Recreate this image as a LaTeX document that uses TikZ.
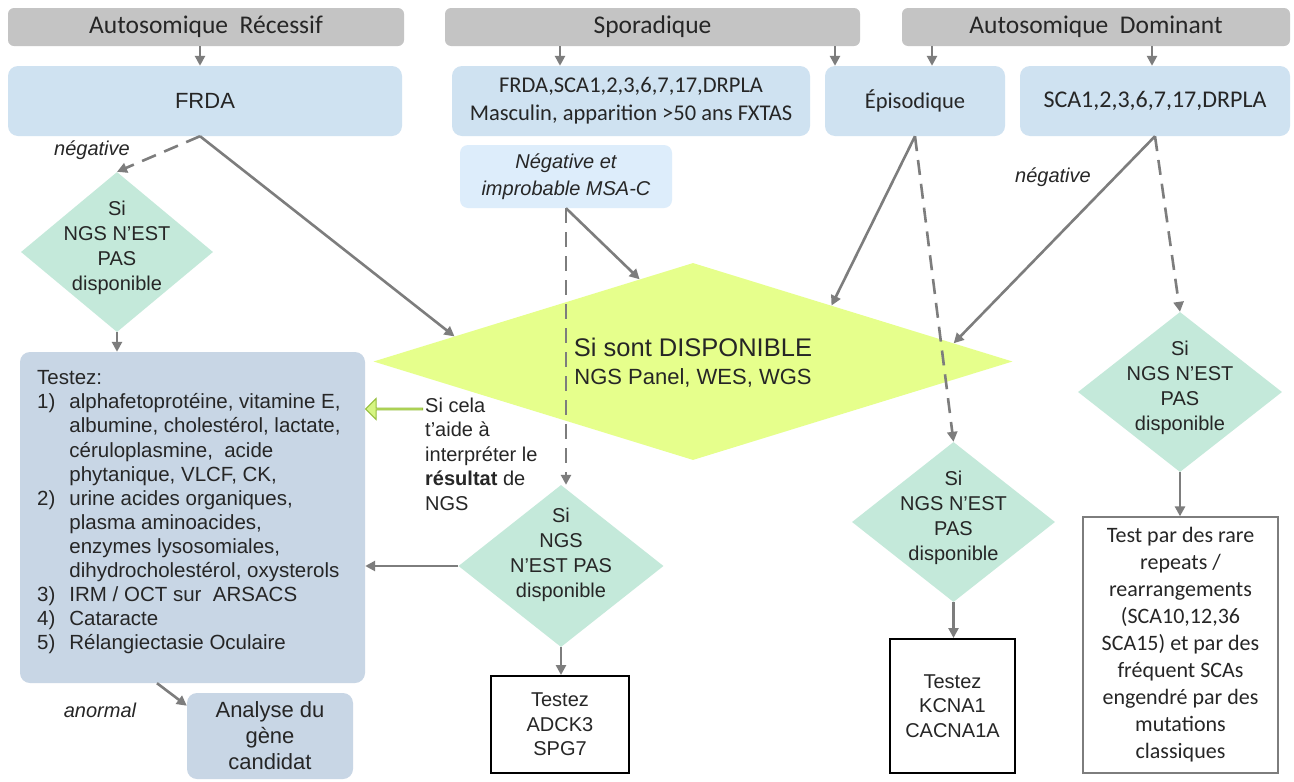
\documentclass[tikz,border=0pt]{standalone}
\usepackage{fontspec}
\setmainfont{Liberation Sans}
\newfontfamily\carl{Carlito}
\usetikzlibrary{arrows.meta,shapes.geometric,shapes.arrows,calc}
\newcommand{\fsz}[2]{\fontsize{#1}{#2}\selectfont}
\definecolor{barg}{RGB}{196,196,196}
\definecolor{boxb}{RGB}{207,226,241}
\definecolor{testb}{RGB}{200,214,229}
\definecolor{msab}{RGB}{221,237,251}
\definecolor{greend}{RGB}{196,233,218}
\definecolor{yell}{RGB}{230,255,140}
\definecolor{arrg}{RGB}{125,125,125}
\definecolor{txt}{RGB}{38,38,38}
\definecolor{garrfill}{RGB}{214,245,130}
\definecolor{garrdraw}{RGB}{150,190,60}
\begin{document}
\begin{tikzpicture}[x=1pt,y=-1pt,
  bar/.style={fill=barg, rounded corners=6pt, minimum height=38pt, inner sep=0pt, text=txt, font={\carl\fsz{25.5}{30}}},
  bbox/.style={fill=boxb, rounded corners=10pt, minimum height=70pt, inner sep=0pt, text=txt, align=center},
  gdia/.style={diamond, fill=greend, inner sep=0pt},
  dtext/.style={align=center, text=txt, font={\fsz{20}{25}}, inner sep=0pt},
  wbox/.style={draw=black, line width=2pt, fill=white, inner sep=0pt, align=center, text=txt, font={\fsz{20}{24.5}}},
  lbl/.style={text=txt, font={\itshape\fsz{20}{24}}, inner sep=0pt},
  arr/.style={draw=arrg, line width=2.6pt, -{Triangle[length=10pt,width=10pt]}},
  darr/.style={arr, dash pattern=on 15pt off 9pt}
]
\useasboundingbox[fill=white] (0,0) rectangle (1294,782);

% top bars
\node[bar, minimum width=396pt] (ar) at (206,27) {Autosomique\ \ Récessif};
\node[bar, minimum width=415pt] (spo) at (652.5,27) {Sporadique};
\node[bar, minimum width=388pt] (ad) at (1096,27) {Autosomique\ \ Dominant};

% second row
\node[bbox, minimum width=394pt, font={\fsz{22}{26}}] (frda) at (205,101) {FRDA};
\node[bbox, minimum width=358pt, font={\carl\fsz{22.5}{28}}] (fsca) at (631,101) {FRDA,SCA1,2,3,6,7,17,DRPLA\\Masculin, apparition \textgreater50 ans FXTAS};
\node[bbox, minimum width=180pt, font={\carl\fsz{22.5}{27}}] (epi) at (915,101) {Épisodique};
\node[bbox, minimum width=270pt, font={\carl\fsz{24}{28}}] (sca) at (1155,101) {SCA1,2,3,6,7,17,DRPLA};

\node[fill=msab, rounded corners=8pt, minimum width=212pt, minimum height=63pt, inner sep=0pt, align=center, text=txt, font={\itshape\fsz{20}{27}}] (msa) at (566,176.5) {Négative et\\improbable MSA-C};

% yellow diamond
\node[diamond, fill=yell, inner sep=0pt, minimum width=639pt, minimum height=197pt] (yd) at (693,361.5) {};
\node[inner sep=0pt, text=txt, font={\fsz{25.5}{30}}] (ydt1) at (693,347) {Si sont DISPONIBLE};
\node[inner sep=0pt, text=txt, font={\fsz{22}{26}}] (ydt2) at (693,378) {NGS Panel, WES, WGS};

% green diamonds
\node[gdia, minimum width=192pt, minimum height=160pt] (d1) at (117,252) {};
\node[dtext] (d1t) at (117,247.5) {Si\\NGS N'EST\\PAS\\disponible};
\node[gdia, minimum width=205pt, minimum height=162pt] (d2) at (561,566) {};
\node[dtext] (d2t) at (561,554.5) {Si\\NGS\\N'EST PAS\\disponible};
\node[gdia, minimum width=203pt, minimum height=160pt] (d3) at (953.5,522) {};
\node[dtext] (d3t) at (953.5,517.5) {Si\\NGS N'EST\\PAS\\disponible};
\node[gdia, minimum width=204pt, minimum height=160pt] (d4) at (1180,392) {};
\node[dtext] (d4t) at (1180,387.5) {Si\\NGS N'EST\\PAS\\disponible};

% testez box
\node[fill=testb, rounded corners=10pt, minimum width=345pt, minimum height=331pt, inner sep=0pt] (testez) at (192.5,517.5) {};
\node[anchor=west, inner sep=0pt, text=txt, font={\fsz{20.5}{24.1}}] (testezt) at (37,512.5) {%
\begin{tabular}{@{}l@{\hspace{14pt}}l@{}}
\multicolumn{2}{@{}l@{}}{Testez:}\\
1) & alphafetoprotéine,\ vitamine\ E,\\
   & albumine,\ cholestérol,\ lactate,\\
   & céruloplasmine,\ \ acide\\
   & phytanique, VLCF, CK,\\
2) & urine\ acides\ organiques,\\
   & plasma\ aminoacides,\\
   & enzymes\ lysosomiales,\\
   & dihydrocholestérol,\ oxysterols\\
3) & IRM / OCT sur\ \ ARSACS\\
4) & Cataracte\\
5) & Rélangiectasie\ Oculaire
\end{tabular}};

\node[fill=testb, rounded corners=10pt, minimum width=166pt, minimum height=86pt, inner sep=0pt, align=center, text=txt, font={\fsz{22}{26}}] (analyse) at (270,736) {Analyse du\\gène\\candidat};

% bottom boxes
\node[wbox, minimum width=138pt, minimum height=97pt] (adck) at (560,724.5) {Testez\\ADCK3\\SPG7};
\node[wbox, minimum width=125pt, minimum height=134pt] (kcna) at (952.5,706) {Testez\\KCNA1\\CACNA1A};
\node[draw=arrg, line width=1.3pt, fill=white, inner sep=0pt, align=center, text=txt, font={\carl\fsz{22}{27}}, minimum width=195pt, minimum height=256pt] (rare) at (1180.5,645) {Test par des rare\\repeats /\\rearrangements\\(SCA10,12,36\\SCA15) et par des\\fréquent SCAs\\engendré par des\\mutations\\classiques};

% labels
\node[lbl] (neg1) at (92,150) {négative};
\node[lbl] (neg2) at (1053,177) {négative};
\node[lbl] (anormal) at (100,710) {anormal};
\node[anchor=west, inner sep=0pt, align=left, text=txt, font={\fsz{20}{24.5}}] (scela) at (425,454) {Si cela\\t'aide à\\interpréter le\\\textbf{résultat} de\\NGS};

% green block arrow
\node[single arrow, shape border rotate=180, fill=garrfill, draw=garrdraw, line width=1pt, inner sep=0pt, minimum height=57pt, minimum width=21pt, single arrow head extend=5.5pt, single arrow head indent=0pt] (garr) at (394.5,409) {};

% coordinates for connector columns
\coordinate (c157) at (157,0);
\coordinate (c200) at (200,0);
\coordinate (c560) at (560,0);
\coordinate (c835) at (835,0);
\coordinate (c932) at (932,0);
\coordinate (c1152) at (1152,0);

% connectors from top bars
\draw[arr] (ar.south -| c200) -- (frda.north -| c200);
\draw[arr] (spo.south -| c560) -- (fsca.north -| c560);
\draw[arr] (spo.south -| c835) -- (epi.north -| c835);
\draw[arr] (ad.south -| c932) -- (epi.north -| c932);
\draw[arr] (ad.south -| c1152) -- (sca.north -| c1152);

% FRDA
\draw[darr] (frda.south -| c200) -- (d1.north);
\draw[arr] (frda.south -| c200) -- (yd.174);
\draw[arr] (d1.south) -- (d1.south |- testez.north);
\draw[arr] (testez.south -| c157) -- (analyse.160);

% sporadic
\draw[arr] (msa.south) -- (yd.123);
\draw[darr] (msa.south) -- (msa.south |- d2.north);
\draw[arr] (d2.west) -- (d2.west -| testez.east);
\draw[arr] (d2.south) -- (d2.south |- adck.north);

% episodic
\draw[arr] (epi.south) -- (yd.22);
\draw[darr] (epi.south) -- (d3.north);
\draw[arr] (d3.south) -- (d3.south |- kcna.north);

% AD
\draw[arr] (sca.south) -- (yd.4);
\draw[darr] (sca.south) -- (d4.north);
\draw[arr] (d4.south) -- (d4.south |- rare.north);
\end{tikzpicture}
\end{document}
